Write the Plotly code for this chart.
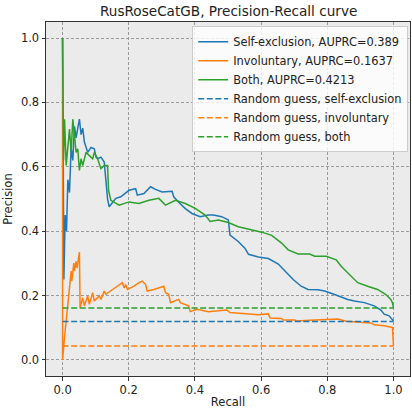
import plotly.graph_objects as go

# ---- data ----
self_recall = [0, 0.004, 0.008, 0.012, 0.016, 0.021, 0.026, 0.031, 0.036, 0.041, 0.046, 0.051, 0.056, 0.061,
               0.066, 0.071, 0.076, 0.086, 0.096, 0.101, 0.106, 0.116, 0.126, 0.131, 0.136, 0.141, 0.151, 0.161,
               0.176, 0.191, 0.201, 0.221, 0.226, 0.246, 0.266, 0.281, 0.301, 0.331, 0.336, 0.351, 0.371, 0.391,
               0.416, 0.441, 0.456, 0.481, 0.501, 0.506, 0.531, 0.551, 0.562, 0.592, 0.622, 0.652, 0.672, 0.697,
               0.721, 0.742, 0.772, 0.792, 0.822, 0.842, 0.862, 0.882, 0.912, 0.942, 0.962, 0.972, 0.987, 1.0]
self_precision = [1.0, 0.25, 0.45, 0.40, 0.56, 0.52, 0.66, 0.62, 0.726, 0.69, 0.72, 0.748, 0.70, 0.72,
                  0.677, 0.66, 0.645, 0.66, 0.656, 0.63, 0.625, 0.63, 0.615, 0.558, 0.50, 0.476, 0.49, 0.502,
                  0.507, 0.52, 0.527, 0.532, 0.512, 0.517, 0.538, 0.53, 0.522, 0.524, 0.507, 0.49, 0.47, 0.455,
                  0.445, 0.45, 0.45, 0.445, 0.435, 0.388, 0.368, 0.347, 0.328, 0.32, 0.315, 0.298, 0.276, 0.25,
                  0.229, 0.219, 0.218, 0.214, 0.203, 0.195, 0.188, 0.183, 0.178, 0.168, 0.155, 0.142, 0.137, 0.121]

invol_recall = [0, 0, 0.006, 0.016, 0.021, 0.026, 0.028, 0.034, 0.036, 0.041, 0.044, 0.051, 0.053, 0.061,
                0.066, 0.076, 0.081, 0.091, 0.096, 0.111, 0.116, 0.126, 0.131, 0.151, 0.181, 0.186, 0.191,
                0.196, 0.216, 0.231, 0.241, 0.251, 0.256, 0.276, 0.306, 0.311, 0.321, 0.326, 0.351, 0.356,
                0.366, 0.381, 0.386, 0.406, 0.441, 0.496, 0.506, 0.556, 0.592, 0.622, 0.627, 0.662, 0.667,
                0.702, 0.707, 0.762, 0.832, 0.857, 0.902, 0.932, 0.942, 0.972, 0.997, 1.0]
invol_precision = [1.0, 0.0, 0.07, 0.173, 0.229, 0.276, 0.245, 0.301, 0.276, 0.306, 0.286, 0.335, 0.162, 0.193,
                   0.168, 0.199, 0.173, 0.209, 0.183, 0.199, 0.188, 0.214, 0.204, 0.219, 0.24, 0.224, 0.234,
                   0.219, 0.229, 0.24, 0.245, 0.234, 0.214, 0.219, 0.229, 0.209, 0.204, 0.178, 0.188, 0.178,
                   0.173, 0.168, 0.15, 0.157, 0.15, 0.155, 0.147, 0.144, 0.14, 0.143, 0.13, 0.129, 0.124,
                   0.124, 0.121, 0.124, 0.127, 0.12, 0.118, 0.115, 0.109, 0.106, 0.101, 0.043]

both_recall = [0, 0.003, 0.006, 0.011, 0.021, 0.026, 0.031, 0.036, 0.041, 0.046, 0.051, 0.056, 0.061, 0.071,
               0.081, 0.091, 0.096, 0.106, 0.116, 0.126, 0.136, 0.139, 0.146, 0.171, 0.201, 0.231, 0.261,
               0.291, 0.311, 0.341, 0.371, 0.401, 0.431, 0.446, 0.471, 0.501, 0.531, 0.562, 0.602, 0.632,
               0.662, 0.682, 0.712, 0.747, 0.762, 0.797, 0.827, 0.842, 0.862, 0.892, 0.922, 0.952, 0.977,
               0.992, 0.997, 1.0]
both_precision = [1.0, 0.62, 0.748, 0.604, 0.717, 0.645, 0.748, 0.697, 0.645, 0.656, 0.589, 0.625, 0.604, 0.645,
                  0.635, 0.625, 0.645, 0.625, 0.594, 0.604, 0.604, 0.527, 0.496, 0.481, 0.491, 0.486, 0.496,
                  0.502, 0.481, 0.496, 0.486, 0.471, 0.45, 0.43, 0.435, 0.427, 0.414, 0.407, 0.397, 0.387,
                  0.363, 0.342, 0.329, 0.329, 0.322, 0.322, 0.311, 0.291, 0.27, 0.24, 0.229, 0.219, 0.203,
                  0.188, 0.178, 0.162]

baseline_self = 0.119
baseline_invol = 0.043
baseline_both = 0.161

series_names = ["Self-exclusion, AUPRC=0.389", "Involuntary, AUPRC=0.1637", "Both, AUPRC=0.4213"]
baseline_names = ["Random guess, self-exclusion", "Random guess, involuntary", "Random guess, both"]
colors = ["#1f77b4", "#ff7f0e", "#2ca02c"]
tick_vals = [0.0, 0.2, 0.4, 0.6, 0.8, 1.0]
tick_text = ["0.0", "0.2", "0.4", "0.6", "0.8", "1.0"]

fig = go.Figure()
curves = [(self_recall, self_precision), (invol_recall, invol_precision), (both_recall, both_precision)]
for (r, p), name, c in zip(curves, series_names, colors):
    fig.add_trace(go.Scatter(x=r, y=p, mode="lines", name=name,
                             line=dict(color=c, width=1.5)))
for b, name, c in zip([baseline_self, baseline_invol, baseline_both], baseline_names, colors):
    fig.add_trace(go.Scatter(x=[0, 1], y=[b, b], mode="lines", name=name,
                             line=dict(color=c, width=1.5, dash="6px,2.6px")))

axis_common = dict(
    showline=True, linecolor="#333333", linewidth=1, mirror=True,
    ticks="outside", ticklen=3.5, tickwidth=0.8, tickcolor="#333333",
    showgrid=True, gridcolor="#999999", gridwidth=0.8, griddash="3px,2px",
    zeroline=False, tickfont=dict(size=11.5, color="#222222"),
    tickvals=tick_vals, ticktext=tick_text,
)

fig.update_layout(
    width=412, height=409,
    margin=dict(l=46, r=1, t=22, b=30),
    paper_bgcolor="white", plot_bgcolor="#EBEBEB",
    font=dict(family="DejaVu Sans", color="#222222"),
    title=dict(text="RusRoseCatGB, Precision-Recall curve", x=0.555, xanchor="center",
               y=0.985, yanchor="top", font=dict(size=13.6)),
    xaxis=dict(range=[-0.05, 1.05], title=dict(text="Recall", font=dict(size=11.5), standoff=3), **axis_common),
    yaxis=dict(range=[-0.05, 1.05], title=dict(text="Precision", font=dict(size=11.5), standoff=5), **axis_common),
    legend=dict(x=0.995, y=0.988, xanchor="right", yanchor="top",
                bgcolor="rgba(255,255,255,0.8)", bordercolor="#cccccc", borderwidth=1,
                font=dict(size=11.4), tracegroupgap=0, itemwidth=30),
    showlegend=True,
)

fig.write_html("out.html")
